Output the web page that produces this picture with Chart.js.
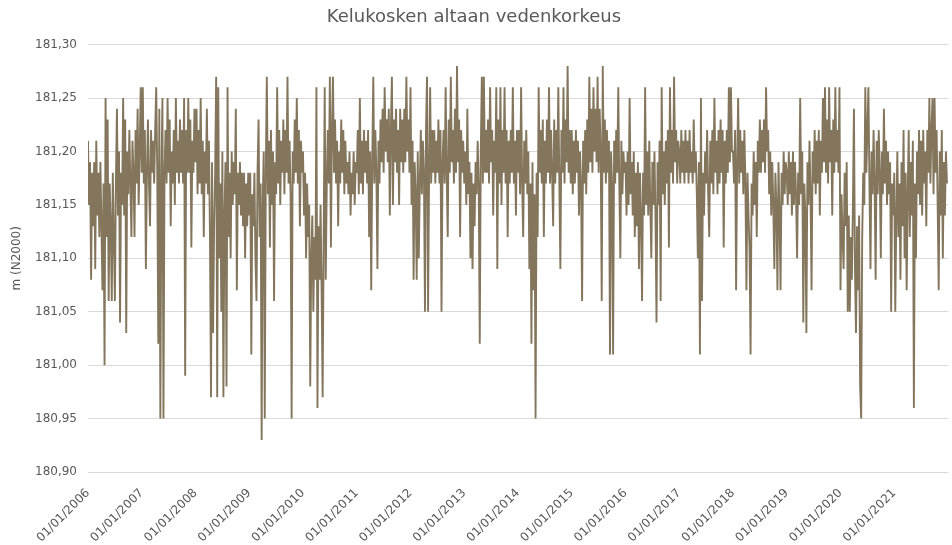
<!DOCTYPE html>
<html>
<head>
<meta charset="utf-8">
<script src="https://cdn.jsdelivr.net/npm/chart.js@4.4.1/dist/chart.umd.min.js"></script>
<style>
  html, body { margin: 0; padding: 0; background: #fff; }
  #wrap { width: 952px; height: 545px; }
</style>
</head>
<body>
<div id="wrap"><canvas id="levelChart" width="952" height="545"></canvas></div>
<script>
// tick labels for the x axis (one per year)
const yearTicks = ['01/01/2006','01/01/2007','01/01/2008','01/01/2009','01/01/2010','01/01/2011',
  '01/01/2012','01/01/2013','01/01/2014','01/01/2015','01/01/2016','01/01/2017',
  '01/01/2018','01/01/2019','01/01/2020','01/01/2021'];

// water level, m (N2000), roughly weekly readings per year
const w2006 = [181.21,181.15,181.19,181.08,181.18,181.13,181.19,181.09,181.21,181.14,181.18,181.12,181.19,181.13,
  181.07,181.17,181.00,181.25,181.12,181.23,181.06,181.17,181.13,181.06,181.18,181.12,181.06,181.17,181.24,
  181.14,181.20,181.04,181.18,181.15,181.25,181.14,181.23,181.03,181.20,181.16,
  181.22,181.17,181.12,181.21,181.18,181.12,181.22,181.17,181.24,181.15,181.20,181.26];
const w2007 = [181.18,181.26,181.17,181.22,181.09,181.18,181.23,181.17,181.13,181.22,181.18,181.21,181.17,181.22,
  181.26,181.18,181.02,181.24,180.95,181.17,181.25,180.95,181.18,
  181.22,181.17,181.25,181.18,181.23,181.13,181.20,181.17,181.22,181.15,181.25,181.18,181.21,181.17,181.23,181.18,181.22,181.17,181.25,
  180.99,181.22,181.18,181.25,181.18,181.23,181.11,181.21,181.18,181.24];
const w2008 = [181.19,181.24,181.16,181.22,181.17,181.25,181.16,181.21,181.12,181.20,181.17,181.24,181.16,181.21,
  181.12,180.97,181.19,181.03,181.13,181.18,181.27,180.97,181.26,181.10,181.17,181.05,181.20,180.97,181.14,181.19,
  180.98,181.26,181.12,181.18,181.10,181.20,
  181.15,181.19,181.16,181.24,181.07,181.18,181.15,181.19,181.14,181.18,181.13,181.18,181.10,181.17,181.13,181.18];
const w2009 = [181.14,181.18,181.01,181.16,181.13,181.18,181.10,
  181.06,181.18,181.23,181.12,181.17,180.93,181.15,181.20,180.95,181.18,
  181.27,181.16,181.21,181.11,181.22,181.15,181.20,181.06,181.19,181.16,181.26,181.17,181.22,181.15,181.21,181.18,
  181.23,181.16,181.22,181.18,181.27,181.17,181.21,181.16,
  180.95,181.20,181.17,181.23,181.18,181.25,181.17,181.22,181.13,181.21,181.18];
const w2010 = [181.20,181.14,181.18,181.10,181.17,181.12,
  181.15,180.98,181.10,181.14,181.05,181.12,181.08,181.26,180.96,181.13,181.08,181.15,181.07,180.97,181.12,181.26,181.08,181.17,
  181.22,181.17,181.27,181.11,181.22,181.27,181.18,181.23,181.17,181.21,181.13,181.20,181.17,181.23,181.18,181.22,181.16,181.21,181.17,
  181.19,181.16,181.20,181.14,181.18,181.16,181.20,181.15,181.19];
const w2011 = [181.18,181.22,181.16,181.25,181.17,181.21,181.16,181.22,181.18,181.21,181.17,181.22,181.12,181.20,
  181.07,181.19,181.27,181.17,181.22,181.18,181.09,181.21,181.17,181.23,
  181.19,181.24,181.18,181.26,181.20,181.23,181.19,181.24,181.14,181.22,181.27,181.15,181.23,181.19,181.24,181.18,
  181.22,181.15,181.24,181.19,181.23,181.18,181.24,181.19,181.27,181.20,181.23,181.18];
const w2012 = [181.26,181.15,181.21,181.08,181.19,181.16,181.08,181.20,181.10,
  181.17,181.22,181.16,181.21,181.18,181.05,181.22,181.27,181.05,181.18,181.26,181.17,181.22,
  181.18,181.22,181.17,181.21,181.18,181.23,181.17,181.22,181.05,181.19,181.22,181.17,181.26,
  181.18,181.12,181.23,181.18,181.27,181.19,181.22,181.17,181.24,181.18,181.28,181.19,181.23,181.12,181.22,181.18,181.21];
const w2013 = [181.17,181.20,181.15,181.24,181.16,181.19,181.10,181.18,181.09,181.17,181.13,181.19,
  181.16,181.21,181.17,181.02,181.20,181.27,181.17,181.27,181.18,181.22,
  181.18,181.23,181.17,181.26,181.19,181.22,181.14,181.21,181.18,181.26,181.09,181.23,181.17,181.26,181.15,181.22,
  181.18,181.26,181.17,181.22,181.12,
  181.21,181.17,181.22,181.18,181.26,181.17,181.21,181.14,181.22];
const w2014 = [181.18,181.22,181.16,181.26,181.17,181.12,181.21,181.17,181.22,181.16,181.20,
  181.09,181.17,181.02,181.19,181.07,181.16,180.95,181.18,181.12,181.26,
  181.18,181.22,181.17,181.23,181.12,181.21,181.17,181.23,181.18,181.26,181.17,181.22,181.18,181.13,181.23,181.17,
  181.22,181.18,181.26,181.17,181.09,181.22,181.18,181.26,181.17,181.23,181.19,181.28,181.18,181.22,181.17];
const w2015 = [181.22,181.16,181.21,181.17,181.22,181.18,181.21,181.14,181.20,181.17,181.06,181.21,
  181.17,181.22,181.16,181.23,181.18,
  181.27,181.19,181.24,181.18,181.26,181.20,181.24,181.19,181.27,181.18,181.24,181.20,
  181.06,181.28,181.18,181.23,181.17,181.22,181.18,181.21,181.01,181.20,181.17,181.01,
  181.21,181.17,181.22,181.18,181.26,181.17,181.10,181.21,181.16,181.20,181.18];
const w2016 = [181.19,181.14,181.20,181.15,181.25,181.16,181.19,181.14,181.20,181.12,
  181.18,181.13,181.19,181.09,181.18,181.14,181.06,
  181.18,181.14,181.26,181.15,181.20,181.14,181.21,181.15,181.10,181.19,181.15,181.20,181.14,181.04,
  181.19,181.15,181.21,181.06,181.26,181.16,181.20,181.15,181.21,181.17,181.22,181.11,181.26,
  181.18,181.22,181.17,181.27,181.19,181.22,181.17,181.21];
const w2017 = [181.20,181.17,181.22,181.18,181.21,181.17,181.22,181.18,181.21,181.17,181.22,181.18,181.20,181.17,181.23,181.18,
  181.20,181.16,181.10,181.19,181.01,181.25,181.06,181.18,181.14,181.20,
  181.17,181.22,181.16,181.12,181.21,181.17,181.22,181.16,181.25,181.18,181.21,181.16,181.22,
  181.17,181.23,181.18,181.22,181.11,181.21,181.17,181.22,181.18,181.26,181.19,181.26,181.20];
const w2018 = [181.20,181.17,181.22,181.07,181.19,181.25,181.17,181.22,181.18,181.21,181.16,181.22,181.17,
  181.07,181.18,181.14,181.11,181.01,181.17,181.14,181.20,181.15,181.19,181.12,
  181.21,181.18,181.23,181.18,181.22,181.19,181.23,181.18,181.26,181.20,181.22,
  181.16,181.20,181.14,181.19,181.15,181.09,181.18,181.15,181.07,181.19,181.14,181.07,181.18,181.15,181.20,181.16,181.19];
const w2019 = [181.18,181.15,181.20,181.16,181.19,181.14,181.20,181.15,181.19,181.16,
  181.10,181.18,181.15,181.25,181.16,181.20,
  181.04,181.17,181.14,181.03,181.19,181.15,181.21,181.16,181.07,181.20,
  181.17,181.22,181.16,181.21,181.17,181.22,181.14,181.21,181.18,181.25,
  181.19,181.26,181.18,181.23,181.17,181.26,181.19,181.22,181.14,181.23,181.18,181.26,181.19,181.22,181.18,181.26];
const w2020 = [181.07,181.16,181.12,181.09,181.18,181.13,181.19,
  181.05,181.14,181.05,181.12,181.08,181.15,181.24,181.09,181.03,181.13,181.07,181.14,180.98,180.95,
  181.12,181.18,181.15,181.26,181.18,181.22,181.26,181.17,181.09,
  181.20,181.16,181.22,181.17,181.08,181.21,181.16,181.22,181.18,181.10,181.20,181.16,181.24,181.17,181.21,181.15,
  181.20,181.16,181.19,181.05,181.17,181.14];
const w2021 = [181.18,181.05,181.14,181.20,181.12,181.17,181.08,181.19,181.13,181.22,181.10,181.18,
  181.07,181.16,181.22,181.12,181.19,181.14,181.21,180.96,
  181.17,181.10,181.20,181.16,181.22,181.15,181.21,181.14,181.22,181.17,181.20,181.13,181.22,181.18,
  181.25,181.17,181.22,181.25,181.16,181.25,181.18,181.22,181.15,181.07,
  181.20,181.14,181.22,181.10,181.19,181.14,181.20,181.17];

const yearly = [w2006, w2007, w2008, w2009, w2010, w2011, w2012, w2013,
  w2014, w2015, w2016, w2017, w2018, w2019, w2020, w2021];

// x = years since 01/01/2006
const points = [];
yearly.forEach((vals, k) => {
  vals.forEach((v, i) => points.push({ x: k + i / vals.length, y: v }));
});

const textColor = '#595959';
const ctx = document.getElementById('levelChart').getContext('2d');
new Chart(ctx, {
  type: 'line',
  data: {
    datasets: [{
      label: 'Vedenkorkeus',
      data: points,
      borderColor: '#83765c',
      borderWidth: 1.9,
      pointRadius: 0,
      tension: 0
    }]
  },
  options: {
    responsive: false,
    animation: false,
    layout: { padding: { left: 0, right: 4, top: 0, bottom: 0 } },
    plugins: {
      legend: { display: false },
      tooltip: { enabled: false },
      title: {
        display: true,
        text: 'Kelukosken altaan vedenkorkeus',
        color: textColor,
        font: { family: 'DejaVu Sans', size: 18, weight: 'normal' },
        padding: { top: 7, bottom: 16 }
      }
    },
    scales: {
      x: {
        type: 'linear',
        min: 0,
        max: 16,
        afterFit: (s) => { s.height = 73; },
        grid: { display: false },
        border: { display: false },
        ticks: {
          stepSize: 1,
          autoSkip: false,
          minRotation: 45,
          maxRotation: 45,
          padding: 6,
          color: textColor,
          font: { family: 'DejaVu Sans', size: 12 },
          callback: (v) => yearTicks[v]
        }
      },
      y: {
        min: 180.9,
        max: 181.3,
        afterFit: (s) => { s.width = 88; },
        grid: { color: '#d9d9d9', drawTicks: false },
        border: { display: false },
        ticks: {
          stepSize: 0.05,
          padding: 11,
          color: textColor,
          font: { family: 'DejaVu Sans', size: 12 },
          callback: (v) => v.toFixed(2).replace('.', ',')
        },
        title: {
          display: true,
          text: 'm (N2000)',
          color: textColor,
          font: { family: 'DejaVu Sans', size: 12 },
          padding: { top: 10, bottom: 0 }
        }
      }
    }
  }
});
</script>
</body>
</html>
